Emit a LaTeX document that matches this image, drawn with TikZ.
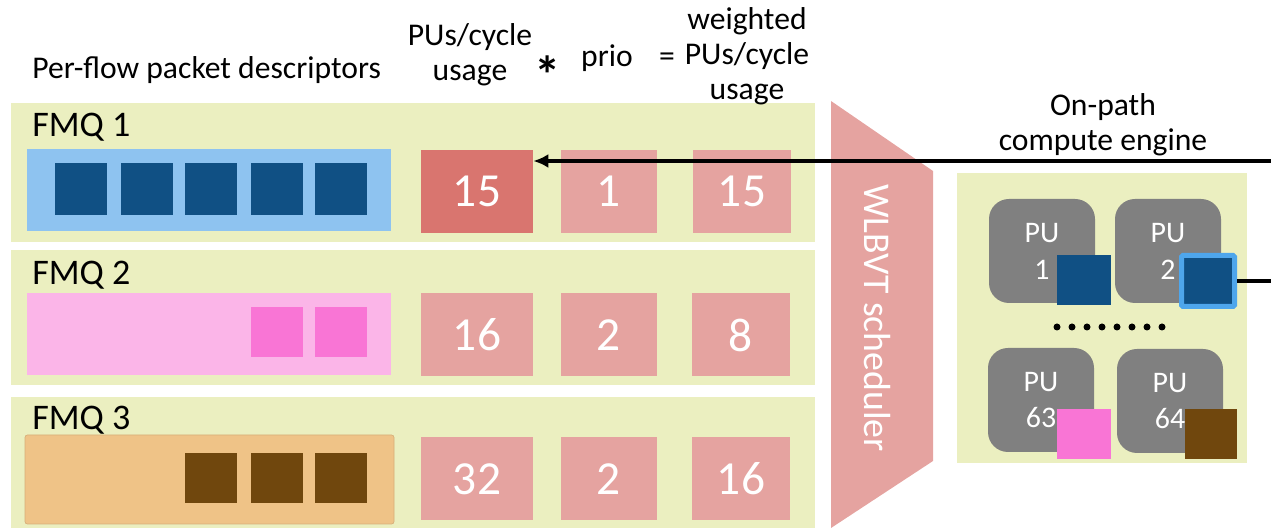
\documentclass[tikz,border=0pt]{standalone}
\usepackage{fontspec}
\setmainfont{Carlito}
\usetikzlibrary{arrows.meta}
\definecolor{fmqbg}{RGB}{235,239,192}
\definecolor{valred}{RGB}{229,163,160}
\definecolor{valdark}{RGB}{217,117,111}
\definecolor{qblue}{RGB}{142,195,240}
\definecolor{pktblue}{RGB}{16,80,132}
\definecolor{pktborder}{RGB}{78,166,236}
\definecolor{qpink}{RGB}{251,181,232}
\definecolor{pktpink}{RGB}{249,117,213}
\definecolor{qorange}{RGB}{239,195,135}
\definecolor{pktbrown}{RGB}{112,71,13}
\definecolor{pugray}{RGB}{128,128,128}

\begin{document}
\begin{tikzpicture}[x=0.2mm,y=-0.2mm,
  hdr/.style={font=\fontsize{18}{20}\selectfont,align=center,inner sep=0pt},
  fmqlabel/.style={font=\fontsize{20.5}{22}\selectfont,anchor=base west,inner sep=0pt},
  valbox/.style={fill=valred,text=white,minimum height=16.6mm,inner sep=0pt,font=\fontsize{27}{29}\selectfont},
  pubox/.style={fill=pugray,text=white,rounded corners=4mm,minimum width=21.2mm,minimum height=20.8mm,inner sep=0pt,align=center,font=\fontsize{17}{21}\selectfont}]
\useasboundingbox (0,0) rectangle (1271,528);
%\draw[step=50,gray,very thin] (0,0) grid (1271,528); %background grid
% queue rows
\fill[fmqbg] (11,103) rectangle (815,242);
\fill[fmqbg] (11,250) rectangle (815,385);
\fill[fmqbg] (11,397) rectangle (815,528);
\fill[qblue] (27,149) rectangle (391,231);
\fill[qpink] (27,293) rectangle (391,375);
\filldraw[fill=qorange,draw=qorange!90!black,rounded corners=0.5mm] (25,435) rectangle (394,524);
%packet descriptors
\fill[pktblue] (55,163) rectangle (107,215);
\fill[pktblue] (121,163) rectangle (173,215);
\fill[pktblue] (185,163) rectangle (237,215);
\fill[pktblue] (251,163) rectangle (303,215);
\fill[pktblue] (315,163) rectangle (367,215);
\fill[pktpink] (251,307) rectangle (303,357);
\fill[pktpink] (315,307) rectangle (367,357);
\fill[pktbrown] (185,453) rectangle (237,503);
\fill[pktbrown] (251,453) rectangle (303,503);
\fill[pktbrown] (315,453) rectangle (367,503);
\node[fmqlabel] (fmq1) at (32,137) {FMQ 1};
\node[fmqlabel] (fmq2) at (32,285) {FMQ 2};
\node[fmqlabel] (fmq3) at (32,430) {FMQ 3};
%headers
\node[hdr,anchor=base west] (desc) at (32,79) {Per-flow packet descriptors};
\node[hdr] (usagehdr) at (470,55) {PUs/cycle\\usage};
\node[hdr] (times) at (548,75) {\fontsize{30}{30}\selectfont\bfseries *};
\node[hdr] (priohdr) at (607,58) {prio};
\node[hdr] (equals) at (667,60) {=};
\node[hdr] (weighthdr) at (747,56) {weighted\\PUs/cycle\\usage};
%values
\node[valbox,fill=valdark,minimum width=22.4mm] (use1) at (477,191.5) {15};
\node[valbox,minimum width=19.2mm] (prio1) at (609,191.5) {1};
\node[valbox,minimum width=19.6mm] (w1) at (742,191.5) {15};
\node[valbox,minimum width=22.4mm] (use2) at (477,335) {16};
\node[valbox,minimum width=19.2mm] (prio2) at (609,335) {2};
\node[valbox,minimum width=19.6mm] (w2) at (741,335) {8};
\node[valbox,minimum width=22.4mm] (use3) at (477,479) {32};
\node[valbox,minimum width=19.2mm] (prio3) at (609,479) {2};
\node[valbox,minimum width=19.6mm] (w3) at (741,479) {16};
%scheduler
\fill[valred] (831,101) -- (933,171) -- (933,461) -- (831,528) -- cycle;
\node[rotate=-90,text=white,font=\fontsize{21.5}{24}\selectfont] (sched) at (877,318) {WLBVT scheduler};
%compute engine
\fill[fmqbg] (957,173) rectangle (1247,463);
\node[hdr] (enginehdr) at (1103,125) {On-path\\compute engine};
\node[pubox] (pu1) at (1042,251) {PU\\1};
\node[pubox] (pu2) at (1168,251) {PU\\2};
\node[pubox] (pu63) at (1041,400) {PU\\63};
\node[pubox] (pu64) at (1170,401) {PU\\64};
\fill[pktblue] (1057,255) rectangle (1111,305);
\node[fill=pktblue,draw=pktborder,line width=1mm,rounded corners=0.3mm,minimum width=10.6mm,minimum height=10.2mm,inner sep=0pt] (pu2pkt) at (1208,281) {};
\fill[pktpink] (1057,409) rectangle (1111,459);
\fill[pktbrown] (1185,409) rectangle (1237,459);
\fill (1057,327) circle (0.7mm);
\fill (1072,327) circle (0.7mm);
\fill (1087,327) circle (0.7mm);
\fill (1102,327) circle (0.7mm);
\fill (1117,327) circle (0.7mm);
\fill (1132,327) circle (0.7mm);
\fill (1147,327) circle (0.7mm);
\fill (1162,327) circle (0.7mm);
%connectors
\coordinate (in1) at (1271,161);
\coordinate (out2) at (1271,281);
\draw[line width=0.75mm,-{Latex[length=3mm,width=2.8mm]}] (in1) -- (in1 -| use1.east);
\draw[line width=0.75mm] (pu2pkt.east) -- (out2);
\end{tikzpicture}
\end{document}
